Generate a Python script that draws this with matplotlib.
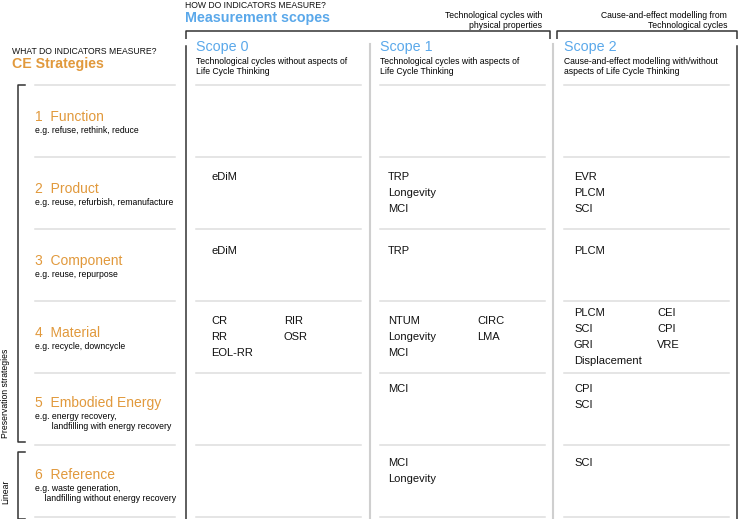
import matplotlib.pyplot as plt

plt.rcParams['font.family'] = ['Liberation Sans', 'DejaVu Sans']

ORANGE = '#E1993C'
BLUE = '#5AA8EA'
DARK = '#333333'
GRID = '#DEDEDE'

# strategies (rows)
strategy_names = ["1  Function", "2  Product", "3  Component", "4  Material",
                  "5  Embodied Energy", "6  Reference"]
strategy_examples = [
    ["e.g. refuse, rethink, reduce"],
    ["e.g. reuse, refurbish, remanufacture"],
    ["e.g. reuse, repurpose"],
    ["e.g. recycle, downcycle"],
    ["e.g. energy recovery,", "       landfilling with energy recovery"],
    ["e.g. waste generation,", "    landfilling without energy recovery"],
]

# scopes (columns)
scope_names = ["Scope 0", "Scope 1", "Scope 2"]
scope_descs = [
    ["Technological cycles without aspects of", "Life Cycle Thinking"],
    ["Technological cycles with aspects of", "Life Cycle Thinking"],
    ["Cause-and-effect modelling with/without", "aspects of Life Cycle Thinking"],
]

# indicators per cell: each cell is a list of sub-columns
scope0_indicators = [
    [],
    [["eDiM"]],
    [["eDiM"]],
    [["CR", "RR", "EOL-RR"], ["RIR", "OSR"]],
    [],
    [],
]
scope1_indicators = [
    [],
    [["TRP", "Longevity", "MCI"]],
    [["TRP"]],
    [["NTUM", "Longevity", "MCI"], ["CIRC", "LMA"]],
    [["MCI"]],
    [["MCI", "Longevity"]],
]
scope2_indicators = [
    [],
    [["EVR", "PLCM", "SCI"]],
    [["PLCM"]],
    [["PLCM", "SCI", "GRI", "Displacement"], ["CEI", "CPI", "VRE"]],
    [["CPI", "SCI"]],
    [["SCI"]],
]
indicators = [scope0_indicators, scope1_indicators, scope2_indicators]

# layout (pixel space)
row_top = 85
row_h = 72
row_pad = [20, 20, 22, 20, 16, 18]
line_h = 16.3
col_left = [196, 380, 564]
col_right = [361, 545, 729]
text_x = [211, 388, 574]
text_x2 = [284, 477, 657]

fig = plt.figure(figsize=(7.4, 5.19), dpi=100)
ax = fig.add_axes([0, 0, 1, 1])
ax.set_xlim(0, 740)
ax.set_ylim(519, 0)
ax.axis('off')

# headings
ax.text(12, 52, "WHAT DO INDICATORS MEASURE?", fontsize=6.2, color='#111111', va='center')
ax.text(12, 64, "CE Strategies", fontsize=10.2, fontweight='bold', color=ORANGE, va='center')
ax.text(185, 6, "HOW DO INDICATORS MEASURE?", fontsize=6.2, color='#111111', va='center')
ax.text(185, 18, "Measurement scopes", fontsize=10.3, fontweight='bold', color=BLUE, va='center')

ax.text(542, 15, "Technological cycles with", fontsize=6.2, ha='right', va='center')
ax.text(542, 25, "physical properties", fontsize=6.2, ha='right', va='center')
ax.text(727, 15, "Cause-and-effect modelling from", fontsize=6.2, ha='right', va='center')
ax.text(727, 25, "Technological cycles", fontsize=6.2, ha='right', va='center')

# top brackets
for x0, x1 in [(186, 550), (557, 737)]:
    ax.plot([x0, x0, x1, x1], [39, 31, 31, 39], color=DARK, lw=1.1, solid_capstyle='butt')

# outer and inner vertical lines
ax.plot([186, 186], [46, 519], color=DARK, lw=1.1)
ax.plot([737, 737], [46, 519], color=DARK, lw=1.1)
for x in [370, 553]:
    ax.plot([x, x], [44, 519], color='#CFCFCF', lw=1.5)

# left brackets
ax.plot([25, 18, 18, 25], [85, 85, 442, 442], color=DARK, lw=1.1)
ax.plot([25, 18, 18, 25], [452, 452, 519, 519], color=DARK, lw=1.1)
ax.text(6, 438, "Preservation strategies", fontsize=6.2, rotation=90, ha='center', va='bottom')
ax.text(6, 492, "Linear", fontsize=6.2, rotation=90, ha='center', va='center')

# scope headers
for j, name in enumerate(scope_names):
    ax.text(col_left[j], 47, name, fontsize=10.3, color=BLUE, va='center')
    for k, line in enumerate(scope_descs[j]):
        ax.text(col_left[j], 62 + 10 * k, line, fontsize=6.2, va='center')

# row separators
for i in range(len(strategy_names) + 1):
    y = row_top + i * row_h
    ax.plot([35, 175], [y, y], color=GRID, lw=1.1)
    for j in range(3):
        ax.plot([col_left[j], col_right[j]], [y, y], color=GRID, lw=1.1)

# strategy labels
for i, name in enumerate(strategy_names):
    top = row_top + i * row_h
    n = len(strategy_examples[i])
    ly = top + 32 - 2 * (n - 1)
    ax.text(35, ly, name, fontsize=10, color=ORANGE, va='center')
    for k, line in enumerate(strategy_examples[i]):
        ax.text(35, ly + 13.5 + 10 * k, line, fontsize=6.2, va='center')

# indicator cells
for j in range(3):
    for i, cell in enumerate(indicators[j]):
        if not cell:
            continue
        top = row_top + i * row_h
        center = top + row_h / 2
        n = max(len(c) for c in cell)
        y0 = min(center - (n - 1) * line_h / 2, top + row_pad[i])
        xs = [text_x[j], text_x2[j]]
        for c, sub in enumerate(cell):
            for k, label in enumerate(sub):
                ax.text(xs[c], y0 + k * line_h, label, fontsize=8, color='#111111', va='center')

fig.savefig("out.png", dpi=100)
